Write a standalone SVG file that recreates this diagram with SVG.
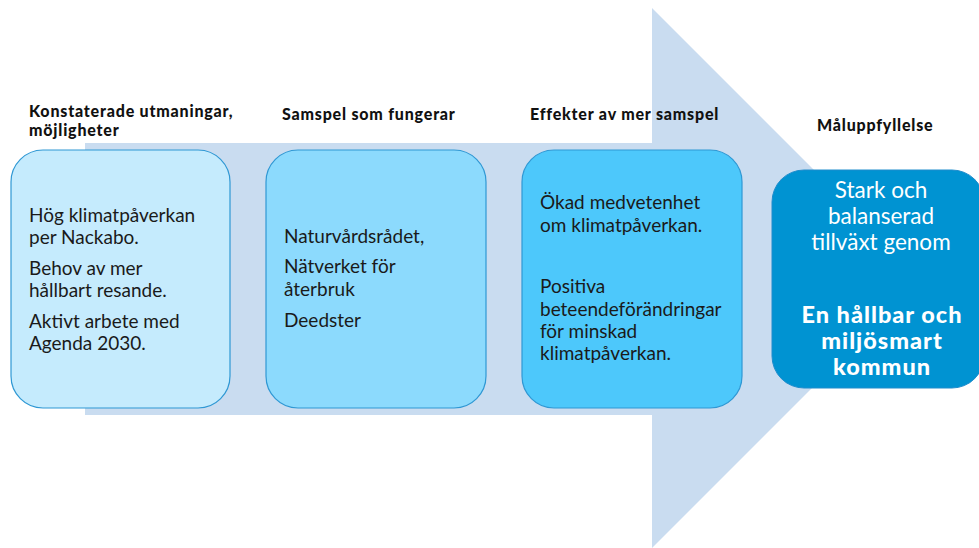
<svg xmlns="http://www.w3.org/2000/svg" width="979" height="548" viewBox="0 0 979 548">
<style>
.title{font-family:Lato,"Open Sans","DejaVu Sans",sans-serif;font-weight:900;font-size:16px;letter-spacing:0.8px;fill:#111}
.body{font-family:Lato,"Open Sans","DejaVu Sans",sans-serif;font-size:19px;fill:#1a1a1a}
.w{font-family:Lato,"Open Sans","DejaVu Sans",sans-serif;font-size:22.5px;fill:#fff;text-anchor:middle}
.wb{font-weight:900;font-size:23.5px;letter-spacing:1px}
.box{stroke:#2f98d4;stroke-width:1.2}
</style>
<rect width="979" height="548" fill="#fff"/>
<g id="arrow">
<polygon points="85,143 652,143 652,8 922,278 652,548 652,415 85,415" fill="#c9dcf0"/>
</g>
<g id="titles">
<text class="title" x="29" y="117">Konstaterade utmaningar,</text>
<text class="title" x="29" y="136">möjligheter</text>
<text class="title" x="282" y="120">Samspel som fungerar</text>
<text class="title" x="530" y="120">Effekter av mer samspel</text>
<text class="title" x="817" y="131">Måluppfyllelse</text>
</g>
<g id="node1">
<rect class="box" x="11" y="150" width="219" height="258" rx="32" fill="#c5ebfd"/>
<text class="body" x="29" y="222">Hög klimatpåverkan</text>
<text class="body" x="29" y="244">per Nackabo.</text>
<text class="body" x="29" y="275">Behov av mer</text>
<text class="body" x="29" y="297">hållbart resande.</text>
<text class="body" x="29" y="328">Aktivt arbete med</text>
<text class="body" x="29" y="350">Agenda 2030.</text>
</g>
<g id="node2">
<rect class="box" x="266" y="150" width="220" height="258" rx="32" fill="#8cdafd"/>
<text class="body" x="284" y="243">Naturvårdsrådet,</text>
<text class="body" x="284" y="273">Nätverket för</text>
<text class="body" x="284" y="296">återbruk</text>
<text class="body" x="284" y="327">Deedster</text>
</g>
<g id="node3">
<rect class="box" x="522" y="150" width="220" height="258" rx="32" fill="#4dc8fb"/>
<text class="body" x="540" y="209">Ökad medvetenhet</text>
<text class="body" x="540" y="232">om klimatpåverkan.</text>
<text class="body" x="540" y="293">Positiva</text>
<text class="body" x="540" y="316">beteendeförändringar</text>
<text class="body" x="540" y="338">för minskad</text>
<text class="body" x="540" y="360">klimatpåverkan.</text>
</g>
<g id="node4">
<rect x="772" y="170" width="212" height="218" rx="32" fill="#0093d2" stroke="#1f8ccc" stroke-width="1"/>
<text class="w" x="881" y="198">Stark och</text>
<text class="w" x="881" y="224">balanserad</text>
<text class="w" x="881" y="250">tillväxt genom</text>
<text class="w wb" x="882" y="323">En hållbar och</text>
<text class="w wb" x="882" y="349">miljösmart</text>
<text class="w wb" x="882" y="375">kommun</text>
</g>
<g id="connectors"></g>
</svg>
